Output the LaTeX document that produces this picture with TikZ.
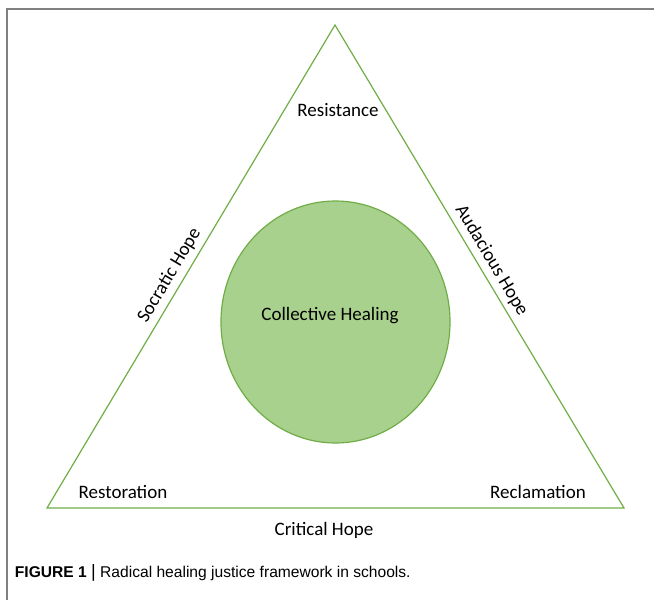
\documentclass[tikz,border=0pt]{standalone}
\usepackage{fontspec}
\setmainfont{Carlito}
\newfontfamily\capfont{Liberation Sans}
\usetikzlibrary{shapes.geometric}
\definecolor{edgegreen}{HTML}{70AD47}
\definecolor{fillgreen}{HTML}{A9D18E}
\begin{document}
\begin{tikzpicture}[x=1pt, y=-1pt, font=\fontsize{19}{22}\selectfont, line width=1.2pt]
	\useasboundingbox (0,0) rectangle (654,600);
	\draw[color=gray, line width=1.5pt] (7,600) -- (7,9) -- (654,9);
	\coordinate (apex) at (335,25);
	\coordinate (left) at (47,508);
	\coordinate (right) at (624,508);
	\draw[color=edgegreen] (apex) -- (right) -- (left) -- cycle;
	\node[draw=edgegreen, fill=fillgreen, ellipse, minimum width=229pt, minimum height=242pt, inner sep=0pt] (heal) at (335.5,322) {};
	\node (healtxt) at (330,316) {Collective Healing};
	\node (resist) at (338,110) {Resistance};
	\node (restore) at (123,492) {Restoration};
	\node (reclaim) at (538,492) {Reclamation};
	\node (critical) at (324,530) {Critical Hope};
	\node[rotate=59.2, inner sep=0pt] (socratic) at (169.5,275.5) {Socratic Hope};
	\node[rotate=-59.2, inner sep=0pt] (audacious) at (491.5,260.5) {Audacious Hope};
	\node[anchor=west, font=\capfont\fontsize{15.6}{18}\selectfont] (caption) at (11,573) {\textbf{FIGURE 1} {\fontsize{18}{18}\selectfont|} Radical healing justice framework in schools.};
\end{tikzpicture}
\end{document}
